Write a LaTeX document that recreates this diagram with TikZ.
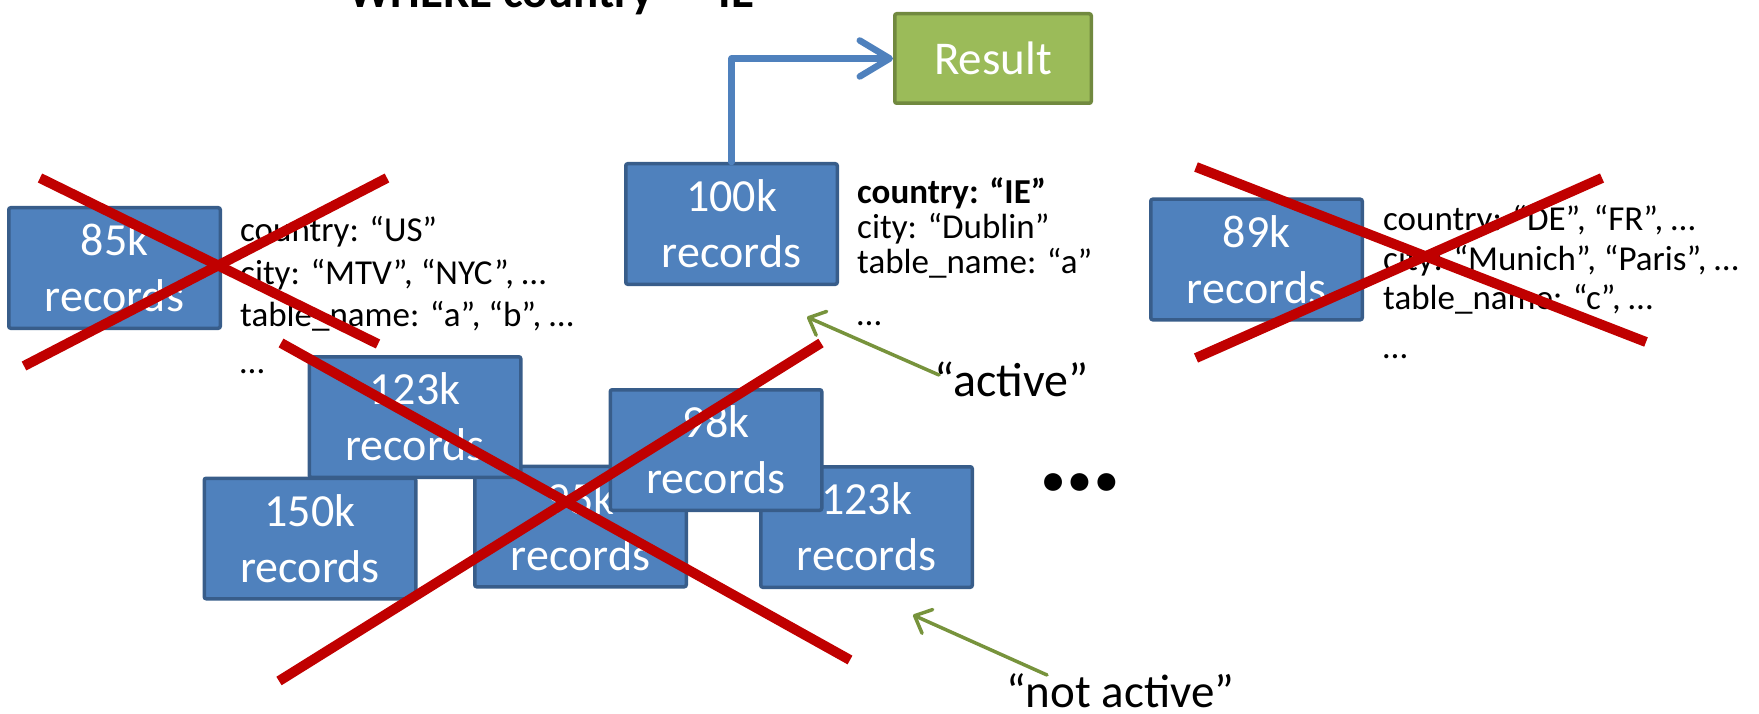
\documentclass[tikz,border=0pt]{standalone}
\usepackage{fontspec}
\setmainfont{Carlito}
\usetikzlibrary{arrows.meta}
\definecolor{boxfill}{HTML}{4F81BD}
\definecolor{boxline}{HTML}{385D8A}
\definecolor{resfill}{HTML}{9BBB59}
\definecolor{resline}{HTML}{71893F}
\definecolor{xred}{HTML}{C00000}
\definecolor{arrgreen}{HTML}{77933C}
\begin{document}
\begin{tikzpicture}[x=1pt,y=-1pt,
  recbox/.style={draw=boxline, fill=boxfill, line width=3.5pt, rounded corners=2pt,
    minimum width=211.5pt, minimum height=120.5pt, inner sep=0pt, text=white,
    align=center, font=\fontsize{46}{56}\selectfont},
  resbox/.style={draw=resline, fill=resfill, line width=3.5pt, rounded corners=2pt,
    minimum width=196.5pt, minimum height=89.5pt, inner sep=0pt, text=white,
    font=\fontsize{47}{56}\selectfont},
  note/.style={anchor=base west, inner sep=0pt, font=\fontsize{35}{42}\selectfont},
  callout/.style={anchor=base west, inner sep=0pt, font=\fontsize{48}{58}\selectfont},
  cross/.style={draw=xred, line width=10pt},
  flow/.style={draw=boxfill, line width=6.5pt, line cap=round, line join=round,
    -{Straight Barb[length=30pt, width=36pt, line width=6.5pt, round]}},
  pointer/.style={draw=arrgreen, line width=3.5pt, line cap=round,
    -{Straight Barb[length=14pt, width=26pt, line width=3.5pt, round]}}
]
\useasboundingbox (0,0) rectangle (1759,714);
\clip (0,0) rectangle (1759,714);

% title (cut off at top)
\node[anchor=base west, inner sep=0pt, font=\fontsize{47}{56}\selectfont\bfseries] (title) at (348,8) {WHERE country = “IE”};

% result
\node[resbox] (res) at (993,58.5) {Result};

% record boxes
\node[recbox] (b85) at (114.5,268) {85k\\records};
\node[recbox] (b100) at (731.5,224) {100k\\records};
\node[recbox] (b89) at (1256.5,259.5) {89k\\records};
\node[recbox] (b95) at (580.5,526.5) {95k\\records};
\node[recbox] (b123a) at (415,417) {123k\\records};
\node[recbox] (b150) at (310,538.5) {150k\\records};
\node[recbox] (b123b) at (866.5,527) {123k\\records};
\node[recbox] (b98) at (716,450) {98k\\records};

% connector to result
\coordinate (bend) at (731.5,58.5);
\draw[flow] (b100.north) -- (bend) -- (res.west);

% notes
\node[note] (n85a) at (240,241) {country: “US”};
\node[note] (n85b) at (240,284) {city: “MTV”, “NYC”, …};
\node[note] (n85c) at (240,326) {table\_name: “a”, “b”, …};
\node[note] (n85d) at (240,373) {…};

\node[note,font=\fontsize{35}{42}\selectfont\bfseries] (n100a) at (857,204) {country: “IE”};
\node[note] (n100b) at (857,239) {city: “Dublin”};
\node[note] (n100c) at (857,273) {table\_name: “a”};
\node[note] (n100d) at (857,325) {…};

\node[note] (n89a) at (1383,231) {country: “DE”, “FR”, …};
\node[note] (n89b) at (1383,270) {city: “Munich”, “Paris”, …};
\node[note] (n89c) at (1383,309) {table\_name: “c”, …};
\node[note] (n89d) at (1383,358) {…};

% crosses
\coordinate (x85a1) at (40,178);   \coordinate (x85a2) at (378,344);
\coordinate (x85b1) at (24,366);   \coordinate (x85b2) at (387,178);
\draw[cross] (x85a1) -- (x85a2);
\draw[cross] (x85b1) -- (x85b2);
\coordinate (x89a1) at (1196,167); \coordinate (x89a2) at (1646,342);
\coordinate (x89b1) at (1196,358); \coordinate (x89b2) at (1602,178);
\draw[cross] (x89a1) -- (x89a2);
\draw[cross] (x89b1) -- (x89b2);
\coordinate (xc1) at (281,343); \coordinate (xc2) at (850,660);
\coordinate (xd1) at (821,343); \coordinate (xd2) at (279,681);
\draw[cross] (xc1) -- (xc2);
\draw[cross] (xd1) -- (xd2);

% more
\node[anchor=base, inner sep=0pt, font=\fontsize{120}{130}\selectfont\bfseries] (more) at (1080,490) {…};

% callouts
\node[callout] (act) at (934,396) {“active”};
\node[callout, font=\fontsize{47}{56}\selectfont] (nact) at (1006,707) {“not active”};
\coordinate (actt) at (939,375); \coordinate (acth) at (807,317);
\draw[pointer] (actt) -- (acth);
\coordinate (nactt) at (1047,675); \coordinate (nacth) at (913,615);
\draw[pointer] (nactt) -- (nacth);
\end{tikzpicture}
\end{document}
